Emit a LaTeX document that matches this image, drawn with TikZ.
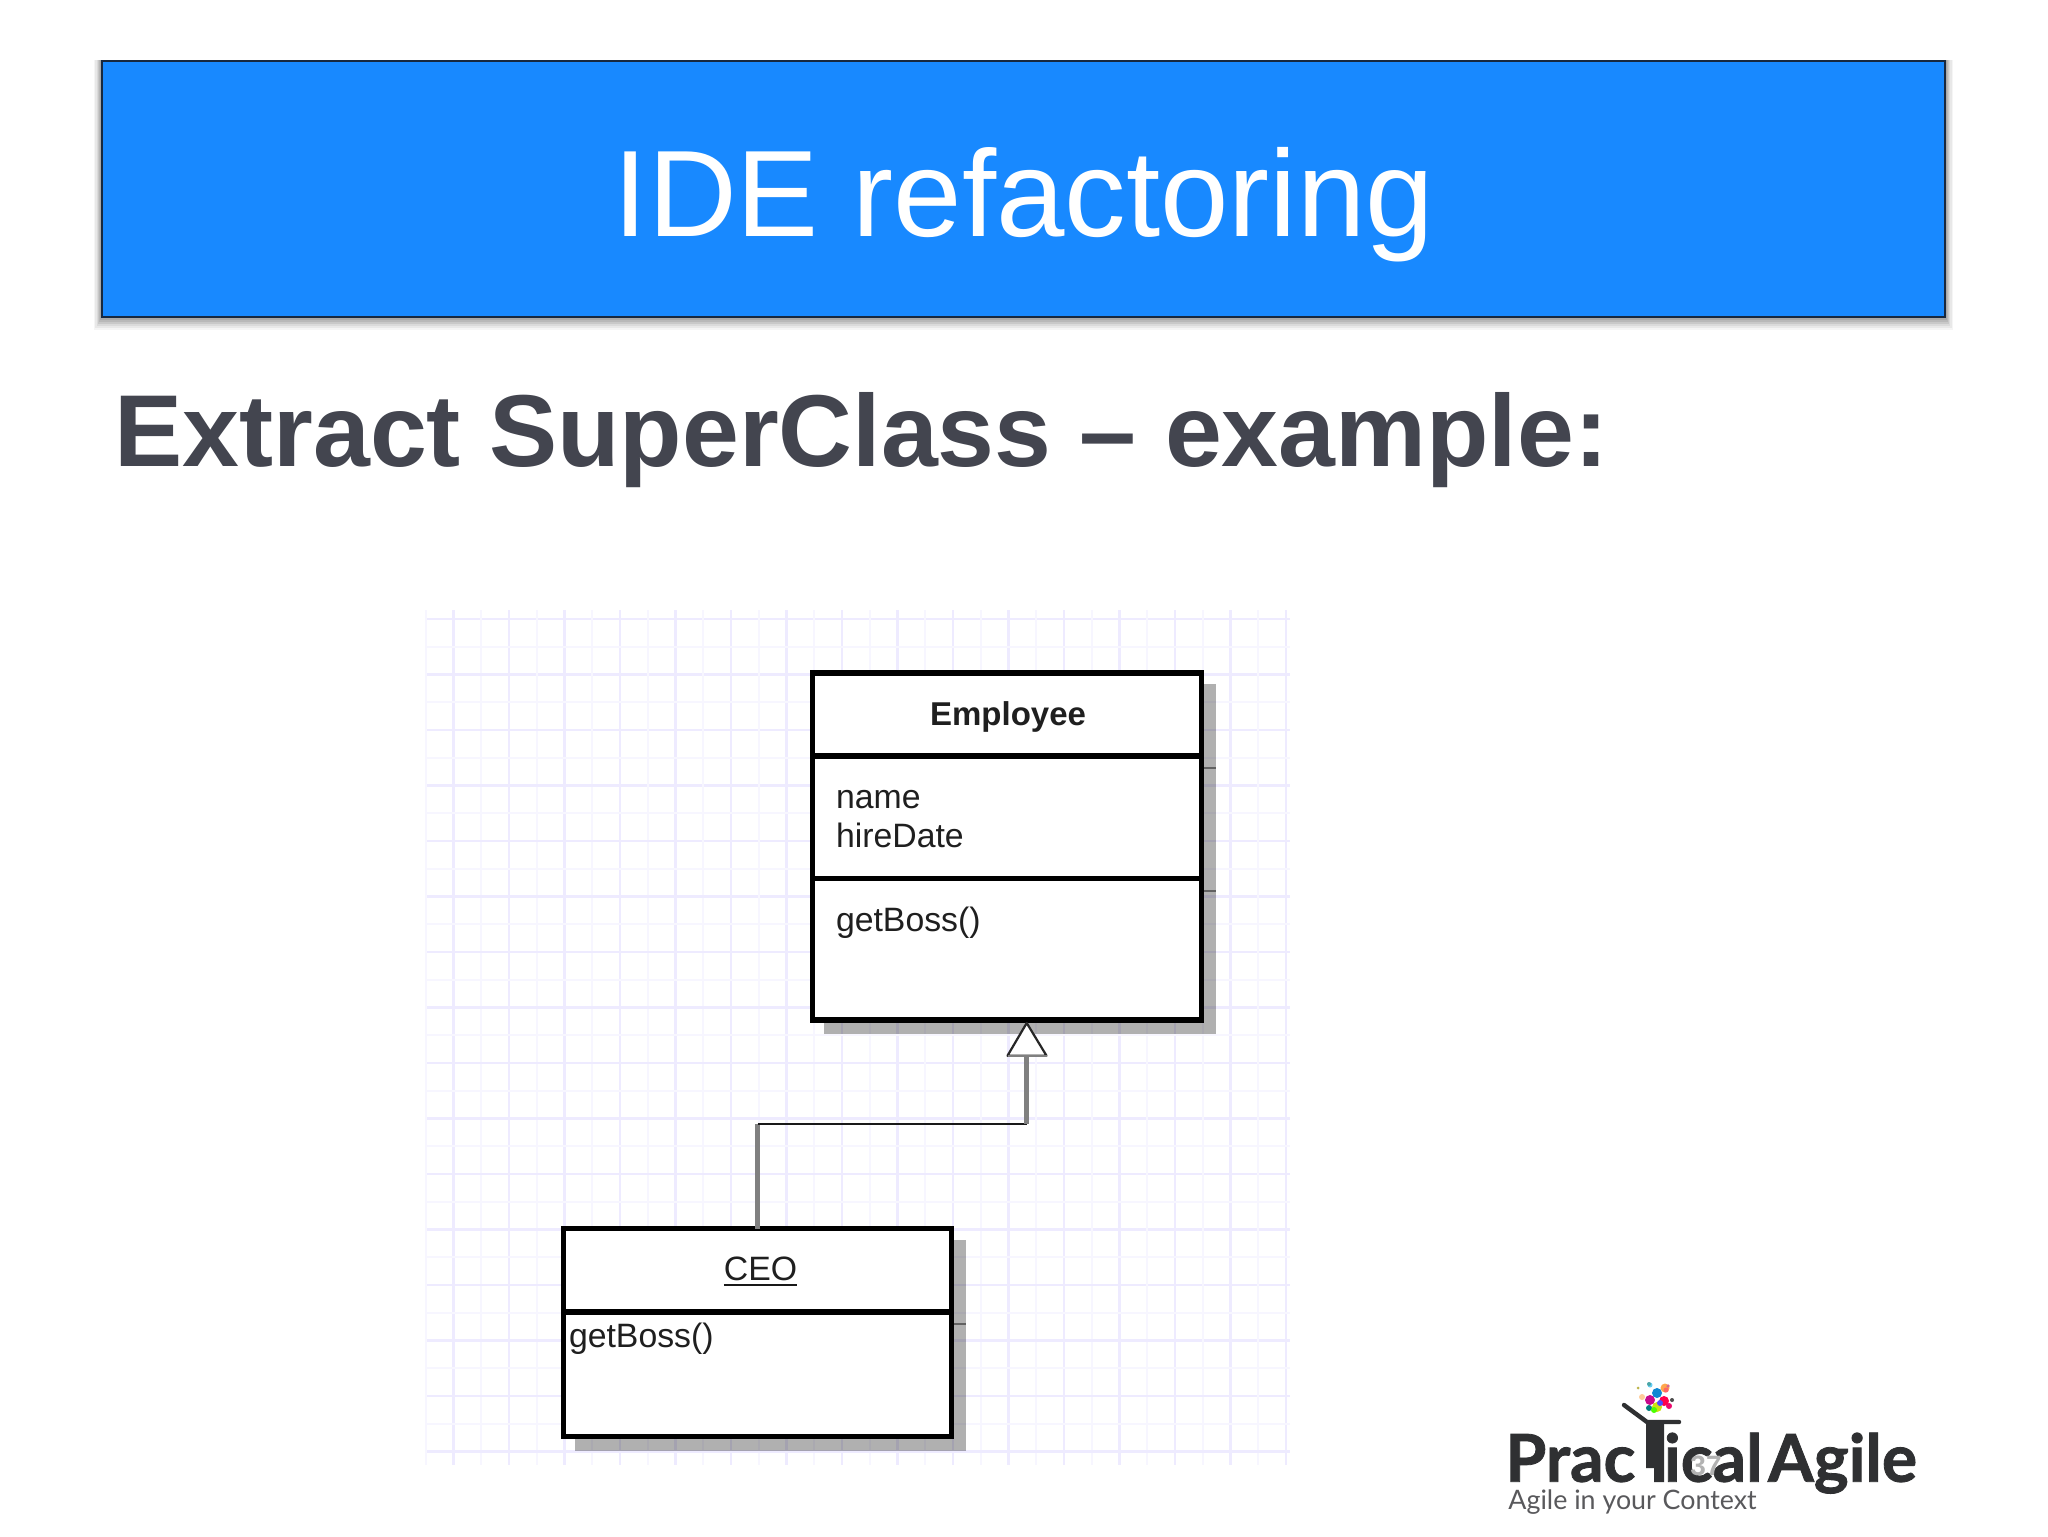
\documentclass[tikz,border=0pt]{standalone}
\usepackage{fontspec}
\setmainfont{Liberation Sans}
\newfontfamily\logofont[FakeBold=1.2]{Lato}
\newfontfamily\tagfont{Lato}
\definecolor{hdrblue}{HTML}{1889FF}
\definecolor{hdrline}{HTML}{17283F}
\definecolor{headtxt}{HTML}{43454F}
\definecolor{gridmaj}{HTML}{EEEBFF}
\definecolor{gridmin}{HTML}{F7F6FF}
\definecolor{logodark}{HTML}{2F3032}
\definecolor{logogray}{HTML}{59595C}
\tikzset{
  umlpart/.style={draw=black,fill=white,line width=2.6pt,rectangle,inner sep=0pt,outer sep=0pt,minimum width=194.2pt},
  umltext/.style={inner sep=0pt,outer sep=0pt,font=\fontsize{16.9pt}{18pt}\selectfont,text=black!88,anchor=base west},
  umlhead/.style={inner sep=0pt,outer sep=0pt,font=\fontsize{16.9pt}{18pt}\selectfont,text=black!88,anchor=base},
  umlshadow/.style={fill=black,fill opacity=.31},
  shadowrule/.style={draw=black!62,line width=1.2pt},
  graylink/.style={draw=black!50,line width=2.5pt},
  thinlink/.style={draw=black!90,line width=1.25pt},
  gridmajor/.style={draw=gridmaj,line width=1.2pt},
  gridminor/.style={draw=gridmin,line width=1pt},
  logotxt/.style={inner sep=0pt,outer sep=0pt,anchor=base west,text=logodark,font=\logofont\bfseries\fontsize{33pt}{36pt}\selectfont}
}
\begin{document}
\begin{tikzpicture}[x=.5pt,y=-.5pt]
\useasboundingbox (0,0) rectangle (2048,1536);
\fill[white] (0,0) rectangle (2048,1536);
% header shadow
\foreach \d/\o in {13/.04,11/.05,9/.06,7/.08,5/.08,3/.08}{
  \fill[black,fill opacity=\o] (102-\d*.6,60) rectangle (1945+\d*.6,317+\d);
}
\node[draw=hdrline,fill=hdrblue,line width=1.1pt,rectangle,inner sep=0pt,outer sep=0pt,minimum width=921.5pt,minimum height=128pt] (header) at (1023.5,189) {};
\node[inner sep=0pt,anchor=base,text=white,font=\fontsize{61.5pt}{64pt}\selectfont] (title) at (1024,236) {IDE refactoring};
\node[inner sep=0pt,anchor=base west,text=headtxt,font=\bfseries\fontsize{51.1pt}{54pt}\selectfont] (heading) at (114,466) {Extract SuperClass – example:};
% grid
\foreach \i in {0,...,15}{
  \draw[gridminor] (425.6+\i*55.5,610) -- (425.6+\i*55.5,1465);
  \draw[gridmajor] (453.3+\i*55.5,610) -- (453.3+\i*55.5,1465);
  \draw[gridmajor] (427,619+\i*55.5) -- (1290,619+\i*55.5);
}
\foreach \i in {0,...,14}{
  \draw[gridminor] (427,646.7+\i*55.5) -- (1290,646.7+\i*55.5);
}
% Employee
\fill[umlshadow] (824,684) rectangle (1215.5,1034);
\draw[shadowrule] (1204,768) -- (1215.5,768);
\draw[shadowrule] (1204,890.7) -- (1215.5,890.7);
\node[umlpart,minimum height=41.5pt] (emptitle) at (1007,714.5) {};
\node[umlpart,minimum height=61.35pt] (empattr) at (1007,817.35) {};
\node[umlpart,minimum height=70.65pt] (empops) at (1007,949.35) {};
\node[umlhead,font=\bfseries\fontsize{16.5pt}{18pt}\selectfont] (emplabel) at (1008,725) {Employee};
\node[umltext] (name) at (836,808) {name};
\node[umltext] (hire) at (836,847) {hireDate};
\node[umltext] (empboss) at (836,931.7) {getBoss()};
% CEO
\fill[umlshadow] (575,1240) rectangle (965.7,1450.7);
\draw[shadowrule] (954,1324) -- (965.7,1324);
\node[umlpart,minimum height=41.6pt] (ceotitle) at (757.5,1270.1) {};
\node[umlpart,minimum height=62.2pt] (ceoops) at (757.5,1374.1) {};
\node[umlhead] (ceolabel) at (760.5,1280.5) {CEO};
\draw[line width=1pt,black!90] ([yshift=-2.3pt]ceolabel.base west) -- ([yshift=-2.3pt]ceolabel.base east);
\node[umltext] (ceoboss) at (569,1347.7) {getBoss()};
% generalisation
\coordinate (apex) at (1026.7,1023);
\coordinate (tribase) at (1026.7,1055.7);
\coordinate (elbowr) at (1026.7,1124);
\coordinate (elbowl) at (ceotitle.north |- elbowr);
\draw[graylink] (ceotitle.north) -- (elbowl);
\draw[thinlink] (elbowl) -- (elbowr);
\draw[graylink] (elbowr) -- (tribase);
\draw[fill=white,draw=black!85,line width=1.1pt,line join=round] (apex) -- (1046.5,1055.7) -- (1007.5,1055.7) -- cycle;
\draw[draw=black!50,line width=1.2pt] (1007.5,1055.7) -- (1046.5,1055.7);
% logo
\node[logotxt] (prac) at (1505.5,1481.7) {Prac};
\node[logotxt] (ical) at (1664,1481.7) {ical};
\node[logotxt] (agile) at (1768,1481.7) {Agile};
\node[inner sep=0pt,anchor=base west,text=logogray,font=\tagfont\fontsize{13.4pt}{15pt}\selectfont] (tag) at (1508,1509) {Agile in your Context};
\fill[logodark] (1646,1423) -- (1664,1423) -- (1664,1482) -- (1654,1482) -- (1654,1468) -- (1646,1468) -- cycle;
\draw[logodark,line width=2.2pt,line cap=round] (1624,1405) -- (1647,1422) -- (1679,1422);
\foreach \px/\py/\r/\c in {1650/1400/5/magenta!80!blue,1657/1393/5/cyan!70!blue,1665/1388/4.5/orange!70!white,1664/1401/5/red!70!magenta,1657/1407/5/yellow!80!green,1649/1408/3/teal,1642/1397/3/orange!40,1650/1385/2.5/cyan!60,1660/1403/3/blue!70,1669/1406/3/magenta!70!red,1672/1400/2/black!70,1649/1384/2/teal!70,1638/1388/1.5/olive!60,1666/1390/2.5/red!60,1668/1386/1.8/purple!60,1654/1410/3/green!70!yellow}{
  \fill[\c] (\px,\py) circle[radius=\r];
}
\node[inner sep=0pt,anchor=base,text=black!30,font=\bfseries\fontsize{14pt}{15pt}\selectfont] (pagenum) at (1706,1475) {37};
\end{tikzpicture}
\end{document}
